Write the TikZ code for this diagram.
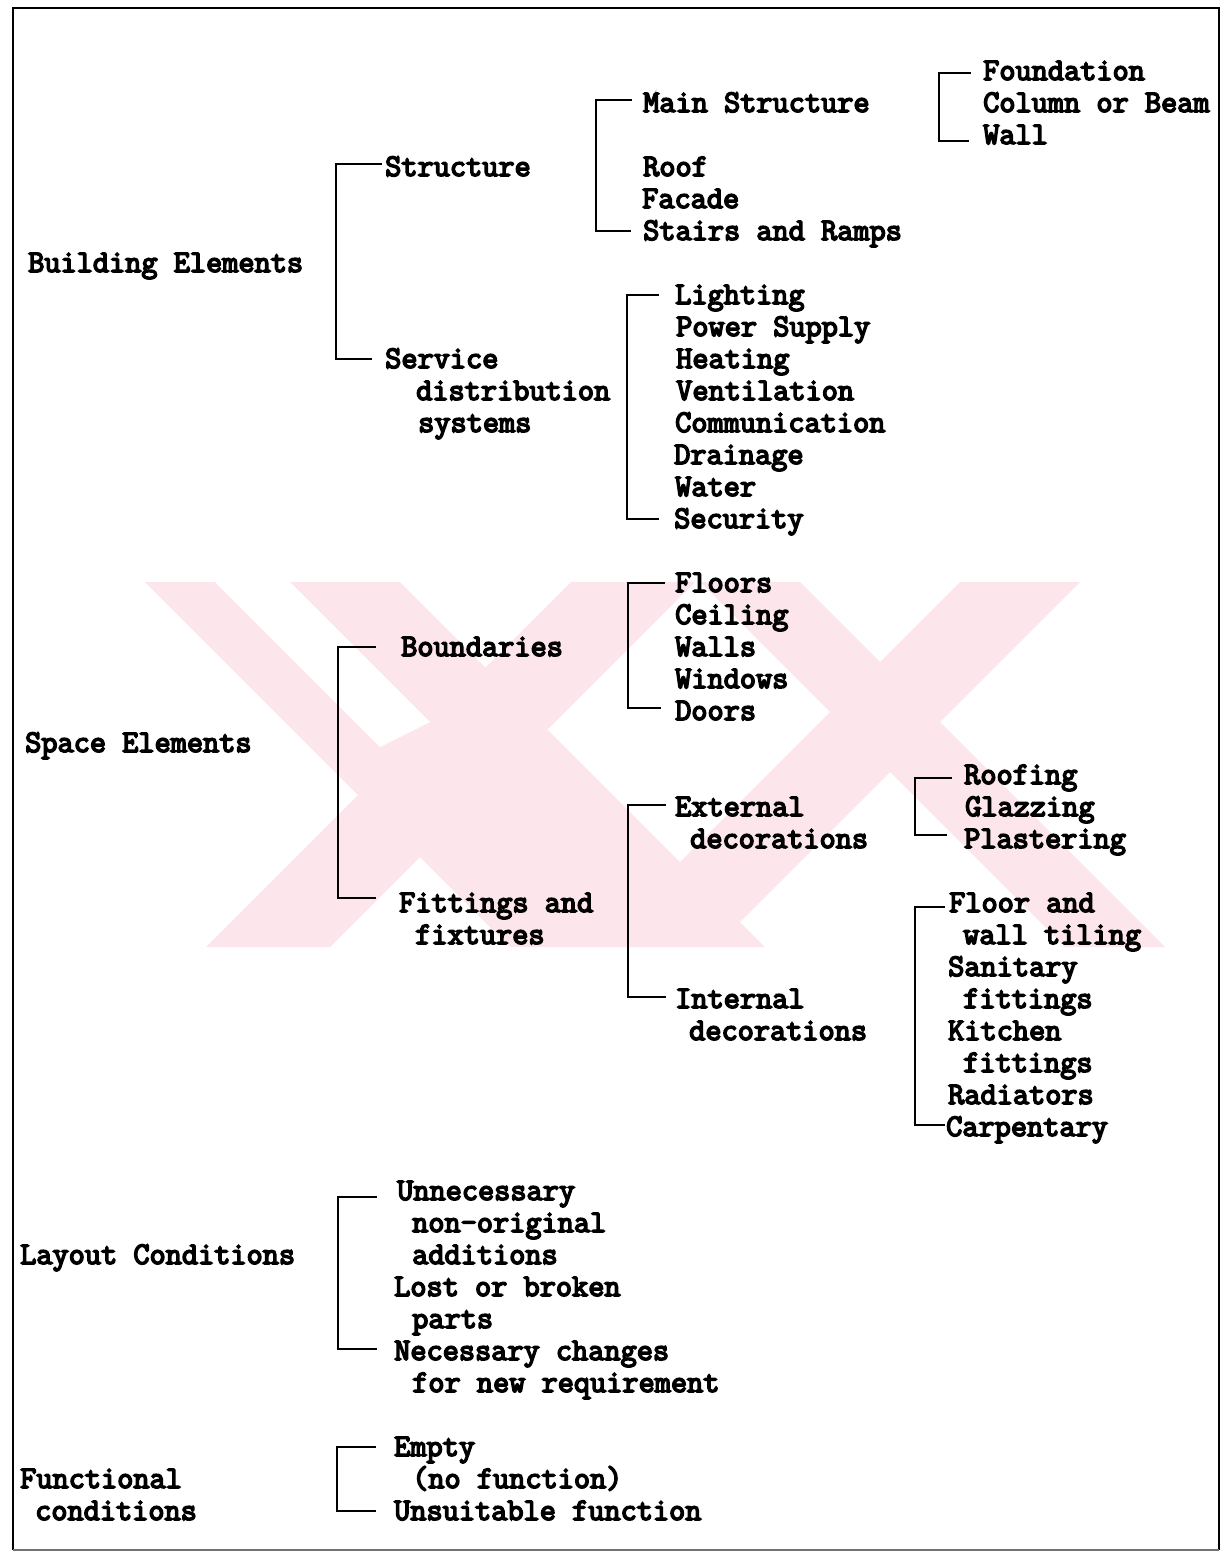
\documentclass[tikz,border=0pt]{standalone}
\usepackage{fontspec}
\newfontfamily\tfont{Latin Modern Mono}[FakeBold=5]
\definecolor{wm}{RGB}{253,230,235}
\begin{document}
\begin{tikzpicture}[x=1pt,y=-1pt,
  lbl/.style={anchor=west, inner sep=0pt, text height=18pt, text depth=0pt,
    font=\tfont\fontsize{31.4pt}{32pt}\selectfont},
  brk/.style={line width=2pt, line cap=rect},
  frm/.style={line width=2.4pt},
  wmark/.style={fill=wm, draw=none}]
\useasboundingbox (0,0) rectangle (1224,1552);
\def\r#1{71+32*#1}

% ---- faint watermark
\begin{scope}
\clip (120,582) rectangle (1185,947);
\fill[wmark] (145,582) -- (400,582) -- (765,947) -- (510,947) -- cycle;
\fill[wmark] (206,947) -- (330,947) -- (695,582) -- (571,582) -- cycle;
\fill[wmark] (700,582) -- (800,582) -- (1165,947) -- (1065,947) -- cycle;
\fill[wmark] (960,582) -- (1080,582) -- (715,947) -- (595,947) -- cycle;
\fill[white] (215,582) -- (290,582) -- (430,722) -- (380,747) -- cycle;
\end{scope}

% frame
\draw[frm] (13,1550) -- (13,8) -- (1219,8) -- (1219,1550);
\draw[frm, black!55] (13,1550) -- (1219,1550);

% ---- Building elements
\node[lbl] (be) at (28,{\r{6}}) {Building Elements};
\node[lbl] (st) at (385,{\r{3}}) {Structure};
\node[lbl] (sv) at (385,{\r{9}}) {Service};
\node[lbl] (sv2) at (416,{\r{10}}) {distribution};
\node[lbl] (sv3) at (418,{\r{11}}) {systems};
\node[lbl] (ms) at (643,{\r{1}}) {Main Structure};
\node[lbl] (rf) at (643,{\r{3}}) {Roof};
\node[lbl] (fc) at (642,{\r{4}}) {Facade};
\node[lbl] (sr) at (643,{\r{5}}) {Stairs and Ramps};
\node[lbl] (fd) at (983,{\r{0}}) {Foundation};
\node[lbl] (cb) at (983,{\r{1}}) {Column or Beam};
\node[lbl] (wl) at (983,{\r{2}}) {Wall};
\node[lbl] (l1) at (675,{\r{7}}) {Lighting};
\node[lbl] (l2) at (676,{\r{8}}) {Power Supply};
\node[lbl] (l3) at (676,{\r{9}}) {Heating};
\node[lbl] (l4) at (676,{\r{10}}) {Ventilation};
\node[lbl] (l5) at (675,{\r{11}}) {Communication};
\node[lbl] (l6) at (674,{\r{12}}) {Drainage};
\node[lbl] (l7) at (675,{\r{13}}) {Water};
\node[lbl] (l8) at (674,{\r{14}}) {Security};

% ---- Space elements
\node[lbl] (se) at (25,{\r{21}}) {Space Elements};
\node[lbl] (bd) at (401,{\r{18}}) {Boundaries};
\node[lbl] (ff) at (399,{\r{26}}) {Fittings and};
\node[lbl] (ff2) at (415,{\r{27}}) {fixtures};
\node[lbl] (b1) at (675,{\r{16}}) {Floors};
\node[lbl] (b2) at (675,{\r{17}}) {Ceiling};
\node[lbl] (b3) at (675,{\r{18}}) {Walls};
\node[lbl] (b4) at (675,{\r{19}}) {Windows};
\node[lbl] (b5) at (675,{\r{20}}) {Doors};
\node[lbl] (ex) at (675,{\r{23}}) {External};
\node[lbl] (ex2) at (690,{\r{24}}) {decorations};
\node[lbl] (in) at (675,{\r{29}}) {Internal};
\node[lbl] (in2) at (689,{\r{30}}) {decorations};
\node[lbl] (e1) at (964,{\r{22}}) {Roofing};
\node[lbl] (e2) at (965,{\r{23}}) {Glazzing};
\node[lbl] (e3) at (964,{\r{24}}) {Plastering};
\node[lbl] (i1) at (949,{\r{26}}) {Floor and};
\node[lbl] (i1b) at (963,{\r{27}}) {wall tiling};
\node[lbl] (i2) at (948,{\r{28}}) {Sanitary};
\node[lbl] (i2b) at (963,{\r{29}}) {fittings};
\node[lbl] (i3) at (948,{\r{30}}) {Kitchen};
\node[lbl] (i3b) at (963,{\r{31}}) {fittings};
\node[lbl] (i4) at (948,{\r{32}}) {Radiators};
\node[lbl] (i5) at (946,{\r{33}}) {Carpentary};

% ---- Layout conditions
\node[lbl] (lc) at (20,{\r{37}}) {Layout Conditions};
\node[lbl] (u1) at (397,{\r{35}}) {Unnecessary};
\node[lbl] (u1b) at (412,{\r{36}}) {non-original};
\node[lbl] (u1c) at (412,{\r{37}}) {additions};
\node[lbl] (u2) at (394,{\r{38}}) {Lost or broken};
\node[lbl] (u2b) at (412,{\r{39}}) {parts};
\node[lbl] (u3) at (394,{\r{40}}) {Necessary changes};
\node[lbl] (u3b) at (412,{\r{41}}) {for new requirement};

% ---- Functional conditions
\node[lbl] (fn) at (20,{\r{44}}) {Functional};
\node[lbl] (fn2) at (35,{\r{45}}) {conditions};
\node[lbl] (f1) at (394,{\r{43}}) {Empty};
\node[lbl] (f1b) at (412,{\r{44}}) {(no function)};
\node[lbl] (f2) at (394,{\r{45}}) {Unsuitable function};

% ---- bracket spines
\coordinate (k1) at (336,250);
\coordinate (k2) at (596,160);
\coordinate (k3) at (939,100);
\coordinate (k4) at (627,400);
\coordinate (k5) at (338,780);
\coordinate (k6) at (628,650);
\coordinate (k7) at (628,900);
\coordinate (k8) at (915,810);
\coordinate (k9) at (915,1000);
\coordinate (k10) at (338,1270);
\coordinate (k11) at (337,1480);

\draw[brk] ([xshift=-4pt,yshift=3pt]st.west) -| (k1) |- ([xshift=-14pt]sv.west);
\draw[brk] ([xshift=-12pt,yshift=3pt]ms.west) -| (k2) |- ([xshift=-13pt]sr.west);
\draw[brk] ([xshift=-13pt,yshift=-2pt]fd.west) -| (k3) |- ([xshift=-15pt,yshift=-6pt]wl.west);
\draw[brk] ([xshift=-17pt]l1.west) -| (k4) |- ([xshift=-16pt]l8.west);
\draw[brk] ([xshift=-26pt]bd.west) -| (k5) |- ([xshift=-24pt,yshift=5pt]ff.west);
\draw[brk] ([xshift=-11pt]b1.west) -| (k6) |- ([xshift=-15pt,yshift=3pt]b5.west);
\draw[brk] ([xshift=-10pt,yshift=2pt]ex.west) -| (k7) |- ([xshift=-10pt,yshift=2pt]in.west);
\draw[brk] ([xshift=-13pt,yshift=-3pt]e1.west) -| (k8) |- ([xshift=-18pt,yshift=4pt]e3.west);
\draw[brk] ([xshift=-5pt,yshift=-4pt]i1.west) -| (k9) |- ([xshift=-2pt,yshift=2pt]i5.west);
\draw[brk] ([xshift=-21pt,yshift=-6pt]u1.west) -| (k10) |- ([xshift=-18pt,yshift=2pt]u3.west);
\draw[brk] ([xshift=-19pt]f1.west) -| (k11) |- ([xshift=-19pt]f2.west);
\end{tikzpicture}
\end{document}
